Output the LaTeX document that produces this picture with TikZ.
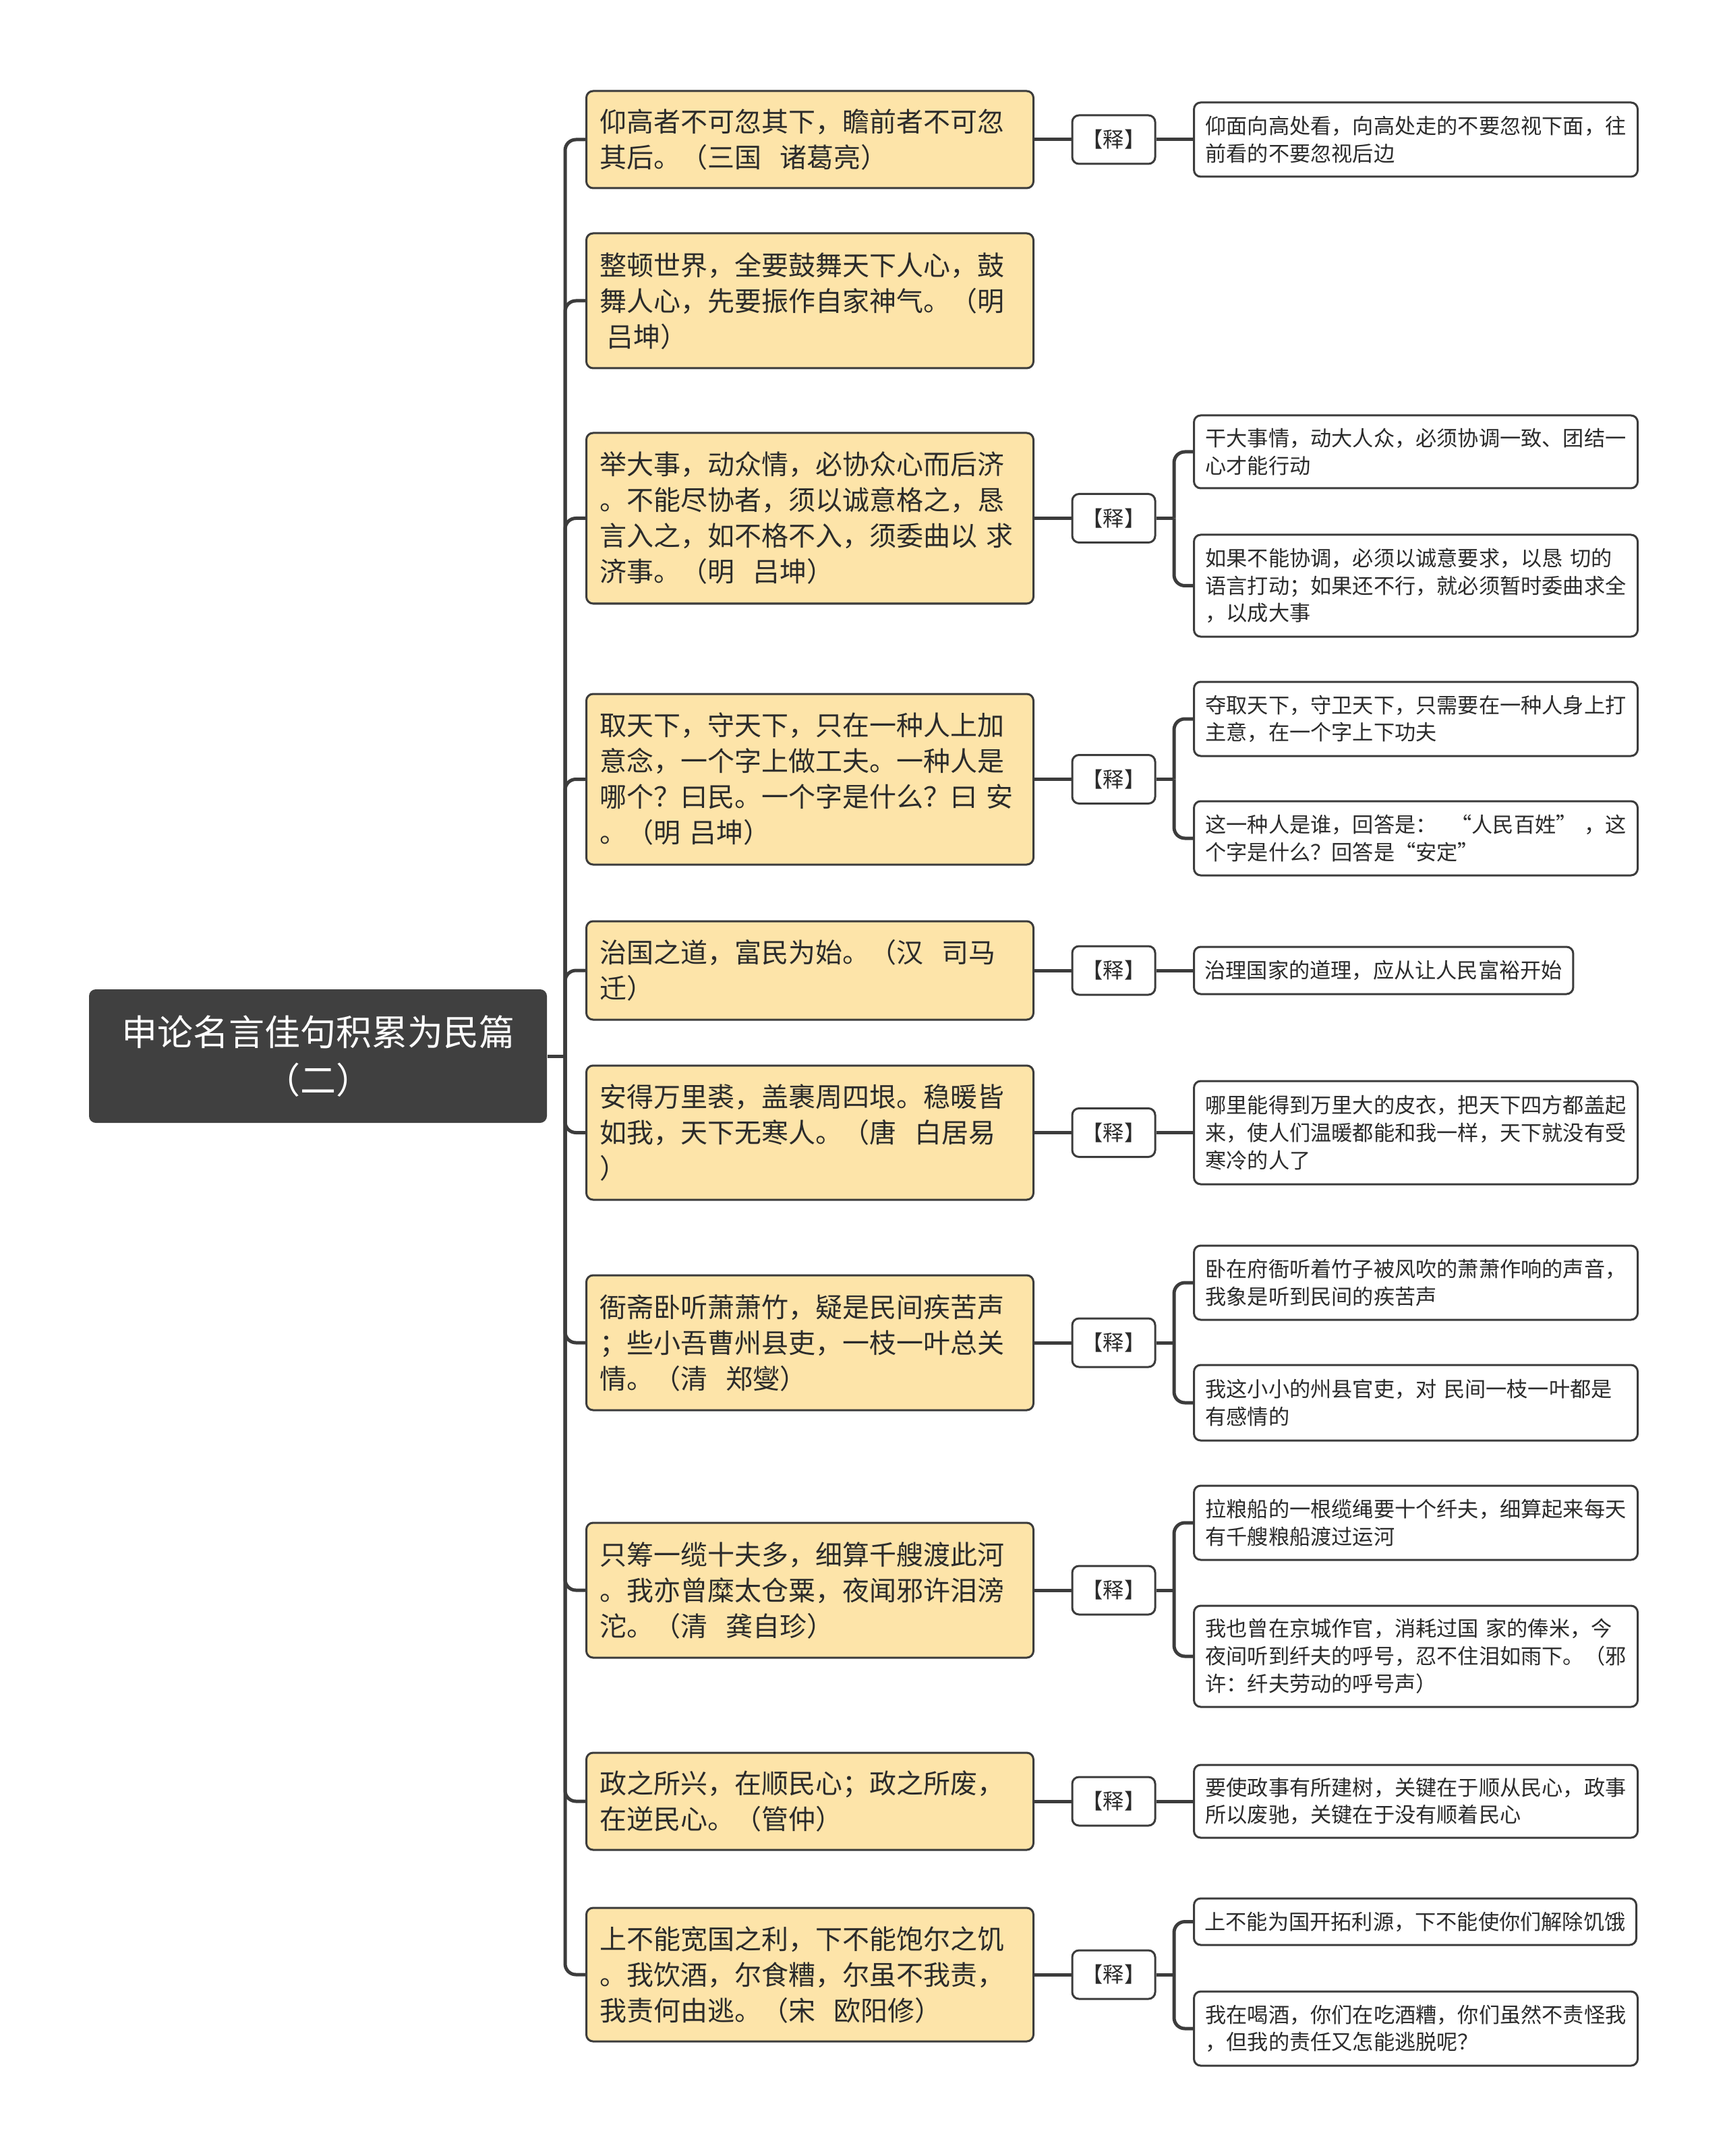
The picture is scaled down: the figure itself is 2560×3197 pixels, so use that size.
\documentclass[tikz,border=0pt]{standalone}
\usepackage{fontspec}
\setmainfont{Noto Sans CJK SC}
\definecolor{linec}{HTML}{3C3C3C}
\definecolor{textc}{HTML}{2B2B2B}
\definecolor{yellowc}{HTML}{FDE4A9}
\definecolor{rootc}{HTML}{404040}
\begin{document}
\begin{tikzpicture}[x=0.25pt,y=-0.25pt,
  lone/.style={draw=linec, line width=0.75pt, fill=yellowc, rounded corners=2.5pt, text=textc,
    align=left, text width=155.75pt, inner xsep=5pt, inner ysep=0pt,
    font=\fontsize{10pt}{13.25pt}\selectfont, anchor=west},
  lthree/.style={draw=linec, line width=0.75pt, fill=white, rounded corners=2.5pt, text=textc,
    align=left, text width=156pt, inner xsep=4.25pt, inner ysep=0pt,
    font=\fontsize{7.8pt}{10.2pt}\selectfont, anchor=west},
  lthreenat/.style={draw=linec, line width=0.75pt, fill=white, rounded corners=2.5pt, text=textc,
    inner xsep=4pt, inner ysep=0pt, font=\fontsize{7.8pt}{10.2pt}\selectfont, anchor=west},
  shi/.style={draw=linec, line width=0.75pt, fill=white, rounded corners=2.5pt, text=textc,
    minimum width=30.75pt, minimum height=18pt, inner sep=0pt, font=\fontsize{7.8pt}{10pt}\selectfont},
  rootbox/.style={fill=rootc, rounded corners=2.5pt, text=white, align=center, inner sep=0pt,
    minimum width=169.75pt, minimum height=49.5pt, font=\fontsize{13.25pt}{17.8pt}\selectfont},
  conn/.style={draw=linec, line width=1.25pt},
  elbow/.style={draw=linec, line width=1.25pt, rounded corners=4pt}
]
\useasboundingbox (0,0) rectangle (2560,3197);

% root
\node[rootbox] (root) at (471.5,1566) {申论名言佳句积累为民篇\\（二）};
\coordinate (tr) at (838,1566);

% level 1
\node[lone, minimum height=36pt] (n1) at (868,207) {仰高者不可忽其下，瞻前者不可忽\\其后。（三国~~诸葛亮）};
\node[lone, minimum height=50pt] (n2) at (868,446) {整顿世界，全要鼓舞天下人心，鼓\\舞人心，先要振作自家神气。（明\\\hspace*{0.25em}吕坤）};
\node[lone, minimum height=63.25pt] (n3) at (868,768.5) {举大事，动众情，必协众心而后济\\。不能尽协者，须以诚意格之，恳\\言入之，如不格不入，须委曲以~求\\济事。（明~~吕坤）};
\node[lone, minimum height=63.25pt] (n4) at (868,1155.5) {取天下，守天下，只在一种人上加\\意念，一个字上做工夫。一种人是\\哪个？曰民。一个字是什么？曰~安\\。（明~吕坤）};
\node[lone, minimum height=36.5pt] (n5) at (868,1439) {治国之道，富民为始。（汉~~司马\\迁）};
\node[lone, minimum height=49.75pt] (n6) at (868,1679.5) {安得万里裘，盖裹周四垠。稳暖皆\\如我，天下无寒人。（唐~~白居易\\）};
\node[lone, minimum height=50pt] (n7) at (868,1991) {衙斋卧听萧萧竹，疑是民间疾苦声\\；些小吾曹州县吏，一枝一叶总关\\情。（清~~郑燮）};
\node[lone, minimum height=50pt] (n8) at (868,2358) {只筹一缆十夫多，细算千艘渡此河\\。我亦曾糜太仓粟，夜闻邪许泪滂\\沱。（清~~龚自珍）};
\node[lone, minimum height=36pt] (n9) at (868,2671) {政之所兴，在顺民心；政之所废，\\在逆民心。（管仲）};
\node[lone, minimum height=49.5pt] (n10) at (868,2928) {上不能宽国之利，下不能饱尔之饥\\。我饮酒，尔食糟，尔虽不我责，\\我责何由逃。（宋~~欧阳修）};

% root connectors
\draw[conn] (root.east) -- (tr);
\foreach \n in {n1,n2,n3,n4,n5,n6,n7,n8,n9,n10}{
  \draw[elbow] (tr) |- (\n.west);
}

% explanation tags
\node[shi] (s1) at (1651.5,207) {【释】};
\node[shi] (s3) at (1651.5,768.5) {【释】};
\node[shi] (s4) at (1651.5,1155.5) {【释】};
\node[shi] (s5) at (1651.5,1439) {【释】};
\node[shi] (s6) at (1651.5,1679.5) {【释】};
\node[shi] (s7) at (1651.5,1991) {【释】};
\node[shi] (s8) at (1651.5,2358) {【释】};
\node[shi] (s9) at (1651.5,2671) {【释】};
\node[shi] (s10) at (1651.5,2928) {【释】};
\foreach \a/\b in {n1/s1,n3/s3,n4/s4,n5/s5,n6/s6,n7/s7,n8/s8,n9/s9,n10/s10}{
  \draw[conn] (\a.east) -- (\b.west);
}

% level 3
\node[lthree, minimum height=27.5pt] (c1) at (1769,207) {仰面向高处看，向高处走的不要忽视下面，往\\前看的不要忽视后边};
\node[lthree, minimum height=27pt] (c3a) at (1769,670) {干大事情，动大人众，必须协调一致、团结一\\心才能行动};
\node[lthree, minimum height=37.75pt] (c3b) at (1769,868.5) {如果不能协调，必须以诚意要求，以恳~切的\\语言打动；如果还不行，就必须暂时委曲求全\\，以成大事};
\node[lthree, minimum height=27.5pt] (c4a) at (1769,1066) {夺取天下，守卫天下，只需要在一种人身上打\\主意，在一个字上下功夫};
\node[lthree, minimum height=27.5pt] (c4b) at (1769,1243) {这一种人是谁，回答是：~~“人民百姓”~，这\\个字是什么？回答是“安定”};
\node[lthreenat, minimum height=17.5pt] (c5) at (1769,1439) {治理国家的道理，应从让人民富裕开始};
\node[lthree, minimum height=38.25pt] (c6) at (1769,1679.5) {哪里能得到万里大的皮衣，把天下四方都盖起\\来，使人们温暖都能和我一样，天下就没有受\\寒冷的人了};
\node[lthree, minimum height=27.5pt] (c7a) at (1769,1902) {卧在府衙听着竹子被风吹的萧萧作响的声音，\\我象是听到民间的疾苦声};
\node[lthree, minimum height=28pt] (c7b) at (1769,2080) {我这小小的州县官吏，对~民间一枝一叶都是\\有感情的};
\node[lthree, minimum height=27.5pt] (c8a) at (1769,2258) {拉粮船的一根缆绳要十个纤夫，细算起来每天\\有千艘粮船渡过运河};
\node[lthree, minimum height=37.5pt] (c8b) at (1769,2456) {我也曾在京城作官，消耗过国~家的俸米，今\\夜间听到纤夫的呼号，忍不住泪如雨下。（邪\\许：纤夫劳动的呼号声）};
\node[lthree, minimum height=27pt] (c9) at (1769,2671) {要使政事有所建树，关键在于顺从民心，政事\\所以废驰，关键在于没有顺着民心};
\node[lthreenat, minimum height=17.25pt] (c10a) at (1769,2849.5) {上不能为国开拓利源，下不能使你们解除饥饿};
\node[lthree, minimum height=27.5pt] (c10b) at (1769,3008) {我在喝酒，你们在吃酒糟，你们虽然不责怪我\\，但我的责任又怎能逃脱呢？};

% single-child connectors
\foreach \a/\b in {s1/c1,s5/c5,s6/c6,s9/c9}{
  \draw[conn] (\a.east) -- (\b.west);
}
% two-child connectors
\foreach \s/\p/\q/\yy in {s3/c3a/c3b/768.5,s4/c4a/c4b/1155.5,s7/c7a/c7b/1991,s8/c8a/c8b/2358,s10/c10a/c10b/2928}{
  \coordinate (b-\s) at (1741,\yy);
  \draw[conn] (\s.east) -- (b-\s);
  \draw[elbow] (b-\s) |- (\p.west);
  \draw[elbow] (b-\s) |- (\q.west);
}
\end{tikzpicture}
\end{document}
